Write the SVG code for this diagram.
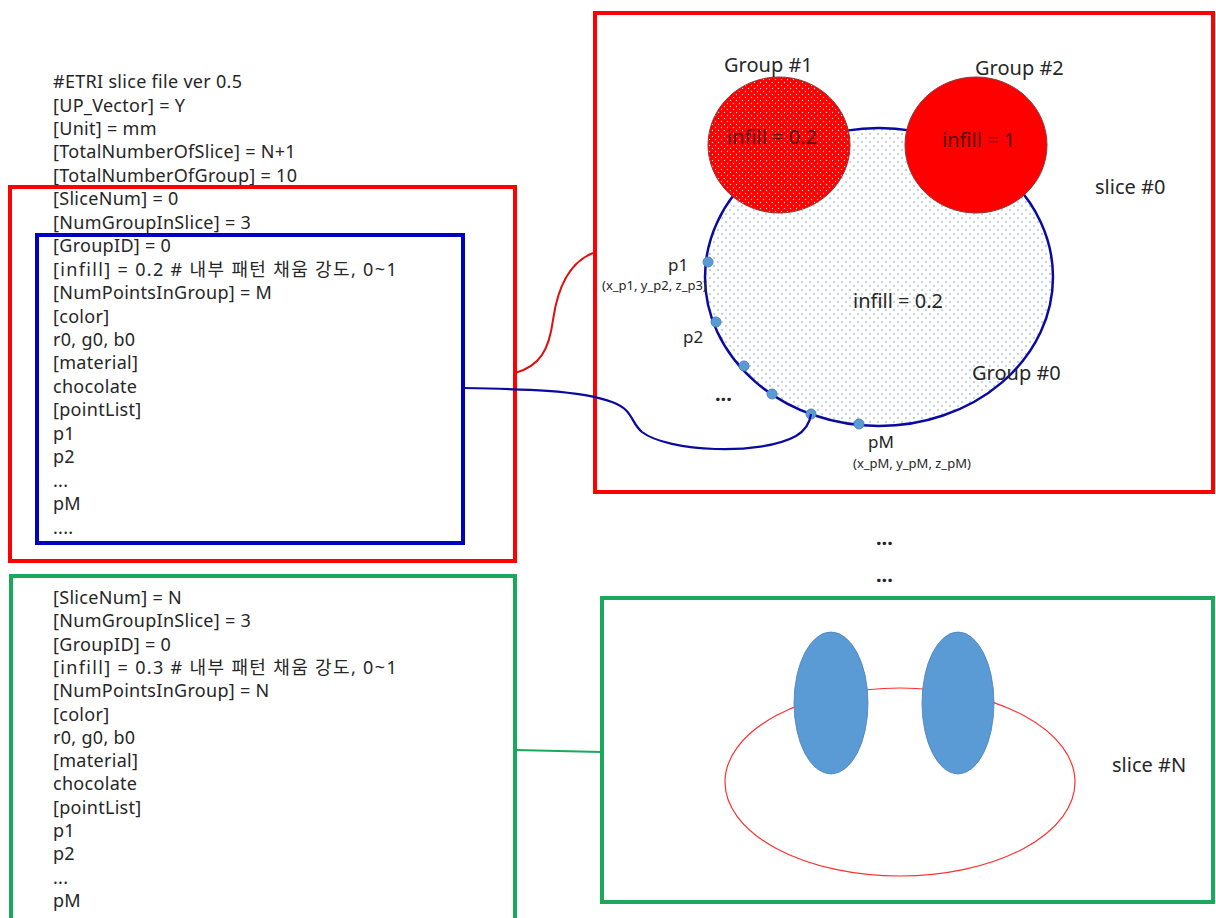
<svg xmlns="http://www.w3.org/2000/svg" width="1216" height="918" viewBox="0 0 1216 918">
  <style>
    .code { font-family: "Noto Sans", "Noto Sans CJK KR", sans-serif; font-size: 18px; letter-spacing: 0.3px; fill: #262626; }
    .lbl { font-family: "Noto Sans", "Noto Sans CJK KR", sans-serif; font-size: 20px; fill: #262626; }
    .sm { font-family: "Noto Sans", "Noto Sans CJK KR", sans-serif; font-size: 17px; fill: #262626; }
    .xs { font-family: "Noto Sans", "Noto Sans CJK KR", sans-serif; font-size: 13px; fill: #262626; }
    .dim { font-family: "Noto Sans", "Noto Sans CJK KR", sans-serif; font-size: 20px; fill: #5a0c0c; }
    .frame-red { fill: none; stroke: #ff0000; stroke-width: 4; }
    .frame-blue { fill: none; stroke: #0000c0; stroke-width: 4; }
    .frame-green { fill: none; stroke: #1aa85a; stroke-width: 4; }
    .pt { fill: #5b9bd5; stroke: #4a86bf; stroke-width: 1; }
    .blob { fill: #5b9bd5; stroke: #4a7fb5; stroke-width: 0.8; }
  </style>
  <defs>
    <!-- light dotted infill of the outer contour -->
    <pattern id="dotsLight" width="8" height="8" patternUnits="userSpaceOnUse">
      <rect width="8" height="8" fill="#ffffff"/>
      <circle cx="2" cy="2" r="0.9" fill="#aabed2"/>
      <circle cx="6" cy="6" r="0.9" fill="#aabed2"/>
    </pattern>
    <!-- red infill with white dots -->
    <pattern id="dotsRed" width="6" height="6" patternUnits="userSpaceOnUse">
      <rect width="6" height="6" fill="#ff0000"/>
      <circle cx="1.5" cy="1.5" r="0.7" fill="#ffd0d0"/>
      <circle cx="4.5" cy="4.5" r="0.7" fill="#ffd0d0"/>
    </pattern>
  </defs>

  <rect width="1216" height="918" fill="#ffffff"/>

  <!-- slice file header and slice #0 listing -->
  <g id="file-slice0">
    <text class="code" x="53" y="88">#ETRI slice file ver 0.5</text>
    <text class="code" x="53" y="111.5">[UP_Vector] = Y</text>
    <text class="code" x="53" y="135">[Unit] = mm</text>
    <text class="code" x="53" y="158.4">[TotalNumberOfSlice] = N+1</text>
    <text class="code" x="53" y="181.8">[TotalNumberOfGroup] = 10</text>
    <text class="code" x="53" y="205.3">[SliceNum] = 0</text>
    <text class="code" x="53" y="228.7">[NumGroupInSlice] = 3</text>
    <text class="code" x="53" y="252.2">[GroupID] = 0</text>
    <text class="code" x="53" y="275.6" textLength="344" lengthAdjust="spacing">[infill] = 0.2 # 내부 패턴 채움 강도, 0~1</text>
    <text class="code" x="53" y="299">[NumPointsInGroup] = M</text>
    <text class="code" x="53" y="322.5">[color]</text>
    <text class="code" x="53" y="346">r0, g0, b0</text>
    <text class="code" x="53" y="369.4">[material]</text>
    <text class="code" x="53" y="392.9">chocolate</text>
    <text class="code" x="53" y="416.3">[pointList]</text>
    <text class="code" x="53" y="439.8">p1</text>
    <text class="code" x="53" y="463.2">p2</text>
    <text class="code" x="53" y="486.6">...</text>
    <text class="code" x="53" y="510">pM</text>
    <text class="code" x="53" y="533.5">....</text>
    <rect id="slice0-block" class="frame-red" x="10" y="187" width="505" height="374"/>
    <rect id="group0-block" class="frame-blue" x="37" y="235" width="426" height="308"/>
  </g>

  <!-- slice #N listing -->
  <g id="file-sliceN">
    <text class="code" x="53" y="604">[SliceNum] = N</text>
    <text class="code" x="53" y="627.3">[NumGroupInSlice] = 3</text>
    <text class="code" x="53" y="650.6">[GroupID] = 0</text>
    <text class="code" x="53" y="673.9" textLength="344" lengthAdjust="spacing">[infill] = 0.3 # 내부 패턴 채움 강도, 0~1</text>
    <text class="code" x="53" y="697.2">[NumPointsInGroup] = N</text>
    <text class="code" x="53" y="720.5">[color]</text>
    <text class="code" x="53" y="743.8">r0, g0, b0</text>
    <text class="code" x="53" y="767.1">[material]</text>
    <text class="code" x="53" y="790.4">chocolate</text>
    <text class="code" x="53" y="813.7">[pointList]</text>
    <text class="code" x="53" y="837">p1</text>
    <text class="code" x="53" y="860.3">p2</text>
    <text class="code" x="53" y="883.6">...</text>
    <text class="code" x="53" y="906.9">pM</text>
    <rect class="frame-green" x="11" y="576" width="504" height="360"/>
  </g>

  <!-- slice #0 drawing -->
  <g id="slice0-view">
    <rect class="frame-red" x="595" y="13" width="618" height="479"/>
    <g id="group0">
      <ellipse cx="879" cy="277" rx="174" ry="149" fill="url(#dotsLight)" stroke="#0a0aa0" stroke-width="2.5"/>
      <text class="lbl" x="853" y="308">infill = 0.2</text>
      <text class="lbl" x="972" y="380">Group #0</text>
    </g>
    <g id="group1">
      <ellipse cx="779" cy="145" rx="71" ry="68" fill="url(#dotsRed)" stroke="#8a3a3a" stroke-width="1"/>
      <text class="lbl" x="724" y="72">Group #1</text>
      <text class="dim" x="727" y="144">infill = 0.2</text>
    </g>
    <g id="group2">
      <ellipse cx="976" cy="145" rx="71" ry="68" fill="#ff0000" stroke="#8a3a3a" stroke-width="1"/>
      <text class="lbl" x="975" y="75">Group #2</text>
      <text class="dim" x="942" y="147">infill = 1</text>
    </g>
    <g id="points">
      <circle class="pt" cx="708" cy="262" r="5"/>
      <circle class="pt" cx="716" cy="322" r="5"/>
      <circle class="pt" cx="744" cy="366" r="5"/>
      <circle class="pt" cx="772" cy="394" r="5"/>
      <circle class="pt" cx="811" cy="414" r="5"/>
      <circle class="pt" cx="859" cy="424" r="5"/>
      <text class="sm" x="668" y="271">p1</text>
      <text class="xs" x="602" y="290">(x_p1, y_p2, z_p3)</text>
      <text class="sm" x="683" y="343">p2</text>
      <text class="lbl" x="715" y="401" font-weight="bold">...</text>
      <text class="sm" x="868" y="448">pM</text>
      <text class="xs" x="853" y="468">(x_pM, y_pM, z_pM)</text>
    </g>
    <text class="lbl" x="1095" y="194">slice #0</text>
  </g>

  <!-- elision between slices -->
  <g id="ellipsis">
    <text class="lbl" x="876" y="545" font-weight="bold">...</text>
    <text class="lbl" x="876" y="582" font-weight="bold">...</text>
  </g>

  <!-- slice #N drawing -->
  <g id="sliceN-view">
    <rect class="frame-green" x="602" y="598" width="611" height="304"/>
    <ellipse cx="900" cy="782" rx="175" ry="94" fill="none" stroke="#ff3030" stroke-width="1.2"/>
    <ellipse class="blob" cx="831" cy="703" rx="37" ry="71"/>
    <ellipse class="blob" cx="958" cy="703" rx="36" ry="71"/>
    <text class="lbl" x="1112" y="772">slice #N</text>
  </g>

  <!-- connectors -->
  <g id="connectors" fill="none">
    <path d="M515,373 C540,366 549,350 553,320 C558,285 570,262 593,253" stroke="#e01010" stroke-width="2"/>
    <path d="M463,388 C520,389 580,390 612,402 C634,410 630,422 642,432 C668,452 760,456 796,436 C806,430 810,422 811,414" stroke="#0a0aa0" stroke-width="2.2"/>
    <path d="M516,750 L601,752" stroke="#1aa85a" stroke-width="2"/>
  </g>
</svg>
